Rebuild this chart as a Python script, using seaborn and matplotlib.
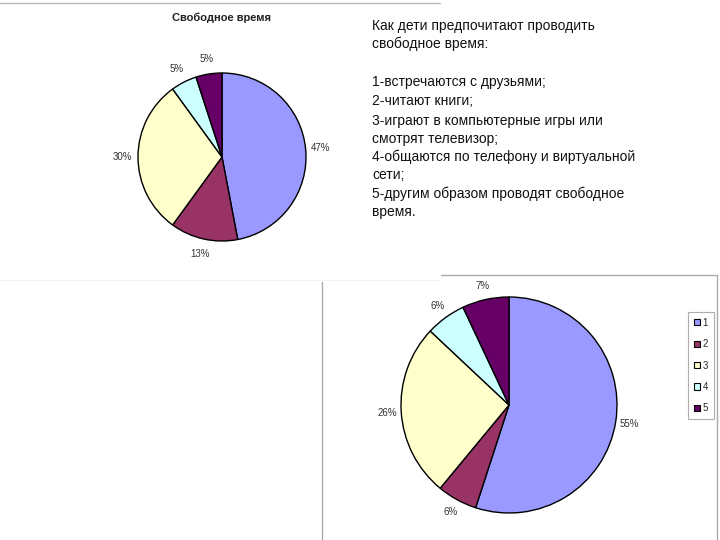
import matplotlib
matplotlib.use("Agg")
import matplotlib.pyplot as plt
import seaborn as sns
from matplotlib.lines import Line2D
from matplotlib.patches import Patch

sns.set_theme(style="white")
plt.rcParams['font.family'] = ['Liberation Sans', 'DejaVu Sans']

categories = ["1", "2", "3", "4", "5"]
values_top = [47, 13, 30, 5, 5]
values_bottom = [55, 6, 26, 6, 7]
colors = ["#9999FF", "#993366", "#FFFFCC", "#CCFFFF", "#660066"]
title_top = "Свободное время"
text_lines = [
    "Как дети предпочитают проводить",
    "свободное время:",
    "",
    "1-встречаются с друзьями;",
    "2-читают книги;",
    "3-играют в компьютерные игры или",
    "смотрят телевизор;",
    "4-общаются по телефону и виртуальной",
    "сети;",
    "5-другим образом проводят свободное",
    "время.",
]

W, H = 720, 540
fig = plt.figure(figsize=(7.2, 5.4), dpi=100)
ax = fig.add_axes([0, 0, 1, 1])
ax.set_xlim(0, W)
ax.set_ylim(0, H)
ax.set_aspect("equal")
ax.axis("off")

def Y(y):
    return H - y

# frame lines
ax.add_line(Line2D([0, 440], [Y(3), Y(3)], color="#bbbbbb", lw=1))
ax.add_line(Line2D([441, 717], [Y(275), Y(275)], color="#aaaaaa", lw=1))
ax.add_line(Line2D([322, 322], [Y(282), Y(540)], color="#aaaaaa", lw=1))
ax.add_line(Line2D([717, 717], [Y(275), Y(540)], color="#aaaaaa", lw=1))
ax.add_line(Line2D([0, 440], [Y(280), Y(280)], color="#f3f3f3", lw=1))

def pct(v):
    return "%d%%" % round(v)

# top pie
ax.pie(values_top, colors=colors, startangle=90, counterclock=False,
       center=(222, Y(157)), radius=84, autopct=pct, pctdistance=1.18,
       wedgeprops=dict(edgecolor="black", linewidth=1.0),
       textprops=dict(fontsize=7, color="#333333"), frame=True)
ax.set_xlim(0, W)
ax.set_ylim(0, H)
ax.axis("off")
ax.text(222, Y(18), title_top, ha="center", va="center", fontsize=8,
        fontweight="bold", color="#222222")

# bottom pie
wedges, _, _ = ax.pie(values_bottom, colors=colors, startangle=90, counterclock=False,
       center=(509, Y(405)), radius=108, autopct=pct, pctdistance=1.13,
       wedgeprops=dict(edgecolor="black", linewidth=1.0),
       textprops=dict(fontsize=7, color="#333333"), frame=True)
ax.set_xlim(0, W)
ax.set_ylim(0, H)
ax.axis("off")

handles = [Patch(facecolor=c, edgecolor="black", linewidth=0.8) for c in colors]
leg = ax.legend(handles, categories, loc="upper left",
                bbox_to_anchor=(688 / W, 1 - 312 / H), bbox_transform=fig.transFigure,
                fontsize=7, handlelength=0.6, handleheight=0.6, handletextpad=0.3,
                labelspacing=1.17, borderpad=0.6, borderaxespad=0, frameon=True,
                fancybox=False)
leg.get_frame().set_edgecolor("#999999")
leg.get_frame().set_linewidth(0.8)

# text block
ys = [26, 44, 63, 82, 101, 121, 139, 157, 175, 194, 212]
for line, y in zip(text_lines, ys):
    if line:
        ax.text(372, Y(y), line, ha="left", va="center", fontsize=10, color="#111111")

fig.savefig("out.png", dpi=100)
